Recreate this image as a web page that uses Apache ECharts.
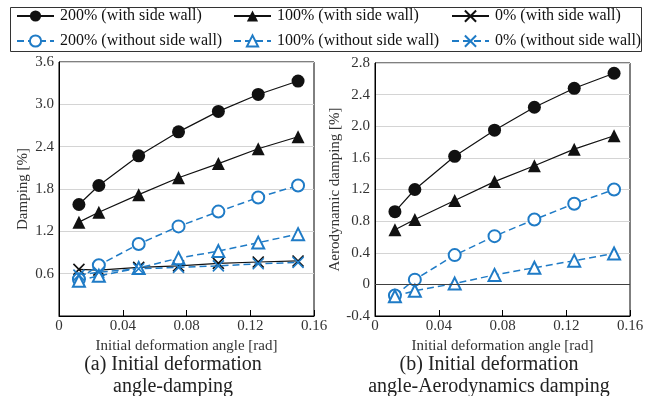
<!DOCTYPE html>
<html>
<head>
<meta charset="utf-8">
<script src="https://cdn.jsdelivr.net/npm/echarts@6/dist/echarts.min.js"></script>
<style>html,body{margin:0;padding:0;background:#fff}#c{width:656px;height:396px}</style>
</head>
<body>
<div id="c"></div>
<script>
// ---- data ----
const xVals = [0.0125, 0.025, 0.05, 0.075, 0.1, 0.125, 0.15];
// (a) damping [%]
const d200w = [1.58, 1.85, 2.27, 2.61, 2.90, 3.14, 3.33];
const d100w = [1.33, 1.47, 1.72, 1.96, 2.16, 2.37, 2.54];
const d0w   = [0.66, 0.65, 0.69, 0.71, 0.745, 0.765, 0.78];
const d200n = [0.52, 0.72, 1.02, 1.27, 1.48, 1.68, 1.85];
const d100n = [0.50, 0.57, 0.68, 0.82, 0.92, 1.04, 1.16];
const d0n   = [0.58, 0.62, 0.67, 0.69, 0.71, 0.74, 0.76];
// (b) aerodynamic damping [%]
const a200w = [0.92, 1.20, 1.62, 1.95, 2.24, 2.48, 2.67];
const a100w = [0.69, 0.82, 1.06, 1.30, 1.50, 1.71, 1.88];
const a200n = [-0.14, 0.06, 0.37, 0.61, 0.82, 1.02, 1.20];
const a100n = [-0.15, -0.08, 0.01, 0.12, 0.21, 0.30, 0.39];

const names = ['200% (with side wall)', '100% (with side wall)', '0% (with side wall)',
               '200% (without side wall)', '100% (without side wall)', '0% (without side wall)'];
const xAxisName = 'Initial deformation angle [rad]';
const yNameA = 'Damping [%]';
const yNameB = 'Aerodynamic damping [%]';
const captionA = '(a) Initial deformation\nangle-damping';
const captionB = '(b) Initial deformation\nangle-Aerodynamics damping';

const FONT = '"Liberation Serif", "DejaVu Serif", serif';
const BLACK = '#111';
const BLUE = '#1f7bc6';
const CROSS = 'path://M0,0L10,10M10,0L0,10';

function pairs(ys){ return xVals.map((x,i)=>[x, ys[i]]); }

const styles = [
  {symbol:'circle', size:13, color:BLACK, dash:'solid'},
  {symbol:'triangle', size:13, color:BLACK, dash:'solid'},
  {symbol:CROSS, size:11, color:BLACK, dash:'solid', cross:true},
  {symbol:'emptyCircle', size:12, color:BLUE, dash:[7,4], empty:true},
  {symbol:'emptyTriangle', size:12, color:BLUE, dash:[7,4], empty:true},
  {symbol:CROSS, size:11, color:BLUE, dash:[7,4], cross:true}
];

function mkSeries(idx, data, gi){
  const s = styles[idx];
  const itemStyle = s.cross
    ? {color:'none', borderColor:s.color, borderWidth:1.6}
    : (s.empty ? {color:s.color, borderColor:s.color, borderWidth:1.5} : {color:s.color});
  return {
    type:'line', name:names[idx], xAxisIndex:gi, yAxisIndex:gi,
    data:pairs(data), symbol:s.symbol, symbolSize:s.size, showAllSymbol:true,
    lineStyle:{color:s.color, width: s.color===BLUE?1.5:1.2, type:s.dash},
    itemStyle,
    emphasis:{disabled:true}, animation:false, z: s.color===BLUE?3:2
  };
}

const fmtY = v => v===0 ? '0' : v.toFixed(1);
const fmtX = v => v===0 ? '0' : v.toFixed(2);

function xAx(gi){
  return {type:'value', gridIndex:gi, min:0, max:0.16, interval:0.04,
    name:xAxisName, nameLocation:'middle', nameGap:18,
    nameTextStyle:{fontFamily:FONT, fontSize:15, color:'#333'},
    axisLine:{show:true, onZero:false, lineStyle:{color:'#000', width:1}},
    axisTick:{show:true, inside:true, length:6, lineStyle:{color:'#000'}},
    axisLabel:{fontFamily:FONT, fontSize:15, color:'#333', formatter:fmtX, margin:3},
    splitLine:{show:false}};
}
function yAx(gi, min, max, interval, name, nameGap, showMin){
  return {type:'value', gridIndex:gi, min, max, interval,
    name, nameLocation:'middle', nameGap,
    nameTextStyle:{fontFamily:FONT, fontSize:15, color:'#333'},
    axisLine:{show:true, lineStyle:{color:'#000', width:1}},
    axisTick:{show:false},
    axisLabel:{fontFamily:FONT, fontSize:15, color:'#333', formatter:fmtY, showMinLabel:showMin, margin:5},
    splitLine:{show:true, lineStyle:{color:'#d4d4d4', width:1}}};
}

const legendPos = [
  [16,16],[233,16],[451,16],
  [16,41],[233,41],[451,41]
];
const legends = names.map((n,i)=>({
  data:[n], left:legendPos[i][0], top:legendPos[i][1]-8, orient:'horizontal',
  itemWidth:37, itemHeight:14, padding:0, itemGap:0,
  textStyle:{fontFamily:FONT, fontSize:16, color:'#111', padding:[0,0,0,1]},
  selectedMode:false
}));

const chart = echarts.init(document.getElementById('c'), null, {renderer:'canvas'});
const series = [
  mkSeries(0,d200w,0), mkSeries(1,d100w,0), mkSeries(2,d0w,0),
  mkSeries(3,d200n,0), mkSeries(4,d100n,0), mkSeries(5,d0n,0),
  mkSeries(0,a200w,1), mkSeries(1,a100w,1),
  mkSeries(3,a200n,1), mkSeries(4,a100n,1)
];
series[6].markLine = {silent:true, symbol:'none', label:{show:false},
  lineStyle:{color:'#404040', width:1.2, type:'solid'}, data:[{yAxis:0}], animation:false};

chart.setOption({
  animation:false,
  backgroundColor:'#fff',
  grid:[
    {left:59, right:342, top:62, bottom:80, show:true, borderColor:'#000', borderWidth:1},
    {left:375, right:26, top:63, bottom:80, show:true, borderColor:'#000', borderWidth:1}
  ],
  xAxis:[xAx(0), xAx(1)],
  yAxis:[yAx(0,0,3.6,0.6,yNameA,28,false), yAx(1,-0.4,2.8,0.4,yNameB,30,true)],
  legend:legends,
  title:[
    {text:captionA, left:168, top:349, textAlign:'center',
     textStyle:{fontFamily:FONT, fontSize:20, fontWeight:'normal', color:'#222', lineHeight:22, align:'center'}},
    {text:captionB, left:484, top:349, textAlign:'center',
     textStyle:{fontFamily:FONT, fontSize:20, fontWeight:'normal', color:'#222', lineHeight:22, align:'center'}}
  ],
  graphic:[
    {type:'rect', shape:{x:10.5, y:7.5, width:631, height:44}, style:{fill:'none', stroke:'#333', lineWidth:1}, silent:true}
  ],
  series
});
</script>
</body>
</html>
